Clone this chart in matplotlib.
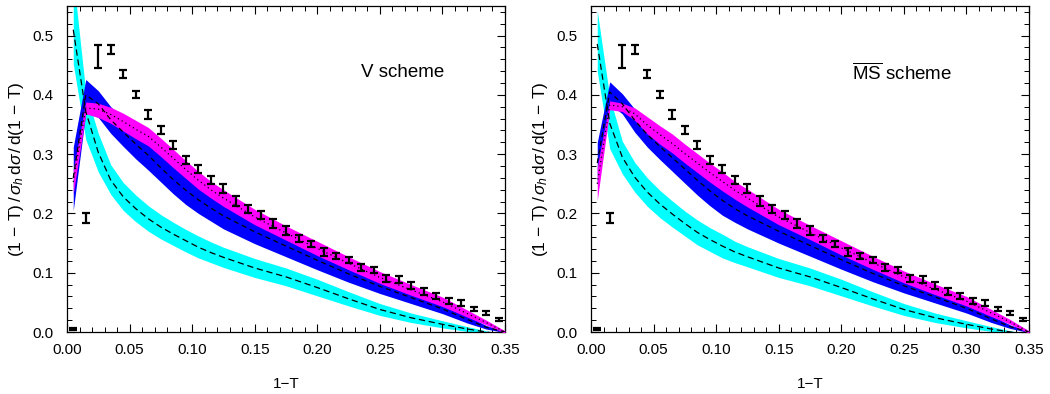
import numpy as np
import matplotlib
matplotlib.use("Agg")
import matplotlib.pyplot as plt
from matplotlib.ticker import MultipleLocator, FormatStrFormatter

plt.rcParams['font.family'] = ['Liberation Sans', 'DejaVu Sans']
plt.rcParams['mathtext.fontset'] = 'custom'
plt.rcParams['mathtext.rm'] = 'Liberation Sans'
plt.rcParams['mathtext.it'] = 'Liberation Sans:italic'

# ---- data points (same in both panels) ----
x_data = [0.005, 0.015, 0.025, 0.035, 0.045, 0.055, 0.065, 0.075, 0.085, 0.095,
          0.105, 0.115, 0.125, 0.135, 0.145, 0.155, 0.165, 0.175, 0.185, 0.195,
          0.205, 0.215, 0.225, 0.235, 0.245, 0.255, 0.265, 0.275, 0.285, 0.295,
          0.305, 0.315, 0.325, 0.335, 0.345]
y_data = [0.005, 0.192, 0.465, 0.477, 0.435, 0.400, 0.367, 0.341, 0.315, 0.290,
          0.275, 0.256, 0.242, 0.221, 0.208, 0.197, 0.183, 0.171, 0.157, 0.149,
          0.135, 0.128, 0.121, 0.109, 0.104, 0.091, 0.089, 0.079, 0.069, 0.060,
          0.053, 0.049, 0.039, 0.032, 0.021]
y_err = [0.002, 0.008, 0.019, 0.008, 0.007, 0.006, 0.007, 0.007, 0.007, 0.007,
         0.006, 0.007, 0.007, 0.008, 0.007, 0.007, 0.007, 0.007, 0.006, 0.005,
         0.006, 0.005, 0.005, 0.006, 0.005, 0.006, 0.006, 0.006, 0.006, 0.005,
         0.005, 0.005, 0.004, 0.003, 0.003]

# ---- theory grid ----
x_th = [0.005, 0.015, 0.025, 0.035, 0.045, 0.055, 0.065, 0.075, 0.085, 0.095,
        0.105, 0.115, 0.125, 0.15, 0.175, 0.20, 0.225, 0.25, 0.275, 0.30,
        0.32, 0.335, 0.35]

# V scheme (left): central value, distance to upper edge, distance to lower edge
V_cyan_c   = [0.510, 0.372, 0.303, 0.256, 0.228, 0.208, 0.191, 0.177, 0.165, 0.154,
              0.143, 0.134, 0.126, 0.108, 0.093, 0.075, 0.056, 0.038, 0.024, 0.013,
              0.005, 0.000, -0.005]
V_cyan_up  = [0.090, 0.033, 0.032, 0.026, 0.024, 0.023, 0.022, 0.021, 0.020, 0.019,
              0.019, 0.018, 0.017, 0.016, 0.015, 0.014, 0.012, 0.010, 0.008, 0.006,
              0.004, 0.002, 0.002]
V_cyan_dn  = [0.058, 0.047, 0.033, 0.024, 0.023, 0.022, 0.021, 0.020, 0.019, 0.019,
              0.018, 0.017, 0.017, 0.016, 0.015, 0.014, 0.012, 0.010, 0.008, 0.006,
              0.004, 0.002, 0.002]

V_blue_c   = [0.260, 0.400, 0.385, 0.358, 0.337, 0.317, 0.298, 0.277, 0.257, 0.239,
              0.223, 0.209, 0.196, 0.169, 0.145, 0.121, 0.098, 0.077, 0.058, 0.039,
              0.021, 0.008, 0.000]
V_blue_up  = [0.052, 0.026, 0.022, 0.022, 0.023, 0.024, 0.024, 0.024, 0.024, 0.024,
              0.024, 0.023, 0.022, 0.020, 0.019, 0.017, 0.015, 0.013, 0.011, 0.008,
              0.006, 0.003, 0.001]
V_blue_dn  = [0.055, 0.030, 0.023, 0.023, 0.024, 0.025, 0.025, 0.024, 0.024, 0.024,
              0.023, 0.022, 0.022, 0.020, 0.018, 0.016, 0.014, 0.012, 0.010, 0.008,
              0.006, 0.003, 0.001]

V_mag_c    = [0.253, 0.378, 0.376, 0.367, 0.355, 0.342, 0.330, 0.312, 0.293, 0.274,
              0.256, 0.240, 0.226, 0.194, 0.167, 0.141, 0.116, 0.092, 0.071, 0.051,
              0.031, 0.016, 0.000]
V_mag_up   = [0.020, 0.010, 0.010, 0.012, 0.014, 0.015, 0.015, 0.015, 0.015, 0.015,
              0.015, 0.014, 0.014, 0.013, 0.012, 0.012, 0.011, 0.010, 0.009, 0.008,
              0.006, 0.004, 0.002]
V_mag_dn   = [0.020, 0.010, 0.014, 0.015, 0.016, 0.016, 0.016, 0.016, 0.016, 0.015,
              0.015, 0.014, 0.014, 0.013, 0.012, 0.012, 0.011, 0.010, 0.009, 0.008,
              0.006, 0.004, 0.002]

# MS-bar scheme (right)
M_cyan_c   = [0.486, 0.352, 0.295, 0.261, 0.236, 0.216, 0.199, 0.183, 0.168, 0.156,
              0.145, 0.135, 0.127, 0.108, 0.093, 0.075, 0.056, 0.038, 0.024, 0.013,
              0.005, 0.000, -0.005]
M_cyan_up  = [0.056, 0.044, 0.027, 0.025, 0.024, 0.023, 0.022, 0.021, 0.021, 0.020,
              0.020, 0.018, 0.017, 0.016, 0.015, 0.014, 0.012, 0.010, 0.008, 0.006,
              0.004, 0.002, 0.002]
M_cyan_dn  = [0.046, 0.043, 0.028, 0.025, 0.024, 0.023, 0.022, 0.021, 0.021, 0.020,
              0.020, 0.018, 0.017, 0.016, 0.015, 0.014, 0.012, 0.010, 0.008, 0.006,
              0.004, 0.002, 0.002]

M_blue_c   = [0.285, 0.405, 0.385, 0.357, 0.333, 0.313, 0.294, 0.275, 0.256, 0.238,
              0.222, 0.208, 0.196, 0.170, 0.146, 0.122, 0.099, 0.078, 0.059, 0.040,
              0.022, 0.009, 0.000]
M_blue_up  = [0.035, 0.017, 0.017, 0.019, 0.020, 0.022, 0.023, 0.024, 0.025, 0.025,
              0.025, 0.024, 0.023, 0.020, 0.019, 0.017, 0.015, 0.013, 0.011, 0.008,
              0.006, 0.003, 0.001]
M_blue_dn  = [0.035, 0.020, 0.017, 0.020, 0.021, 0.022, 0.023, 0.024, 0.025, 0.025,
              0.025, 0.023, 0.022, 0.020, 0.018, 0.016, 0.014, 0.012, 0.010, 0.008,
              0.006, 0.003, 0.001]

M_mag_c    = [0.250, 0.383, 0.380, 0.368, 0.349, 0.333, 0.318, 0.301, 0.285, 0.269,
              0.254, 0.239, 0.226, 0.194, 0.168, 0.142, 0.117, 0.093, 0.072, 0.052,
              0.032, 0.017, 0.000]
M_mag_up   = [0.028, 0.007, 0.006, 0.010, 0.014, 0.015, 0.016, 0.016, 0.016, 0.016,
              0.016, 0.015, 0.015, 0.013, 0.012, 0.012, 0.011, 0.010, 0.009, 0.008,
              0.006, 0.004, 0.002]
M_mag_dn   = [0.028, 0.008, 0.008, 0.011, 0.015, 0.016, 0.016, 0.016, 0.016, 0.016,
              0.016, 0.015, 0.015, 0.013, 0.012, 0.012, 0.011, 0.010, 0.009, 0.008,
              0.006, 0.004, 0.002]

panels = [
    dict(label="V scheme", tx=0.672,
         cyan=(V_cyan_c, V_cyan_up, V_cyan_dn),
         blue=(V_blue_c, V_blue_up, V_blue_dn),
         mag=(V_mag_c, V_mag_up, V_mag_dn)),
    dict(label=r"$\overline{\mathrm{MS}}$ scheme", tx=0.595,
         cyan=(M_cyan_c, M_cyan_up, M_cyan_dn),
         blue=(M_blue_c, M_blue_up, M_blue_dn),
         mag=(M_mag_c, M_mag_up, M_mag_dn)),
]


def band(ax, spec, color, ls, z):
    c, up, dn = (np.asarray(v) for v in spec)
    ax.fill_between(x_th, c - dn, c + up, color=color, lw=0, zorder=z)
    ax.plot(x_th, c, color='black', lw=0.9, ls=ls, zorder=4)


fig = plt.figure(figsize=(10.5, 3.94), dpi=100)
axes_pos = [[67/1050, 1-332/394, 438/1050, 326/394],
            [591/1050, 1-332/394, 438/1050, 326/394]]

ylab = r"(1$\,-\,$T)$\,$/$\,\sigma_h\,$d$\sigma\,$/$\,$d(1$\,-\,$T)"

for pos, p in zip(axes_pos, panels):
    ax = fig.add_axes(pos)
    band(ax, p['cyan'], '#00FFFF', (0, (5, 3)), 1)
    band(ax, p['blue'], '#0000FF', (0, (4, 3)), 2)
    band(ax, p['mag'], '#FF00FF', (0, (1, 2.5)), 3)

    ax.errorbar(x_data, y_data, yerr=y_err, fmt='none', ecolor='black',
                elinewidth=1.6, capsize=2.8, capthick=1.6, zorder=5)

    ax.set_xlim(0, 0.35)
    ax.set_ylim(0, 0.55)
    ax.xaxis.set_major_locator(MultipleLocator(0.05))
    ax.xaxis.set_minor_locator(MultipleLocator(0.01))
    ax.yaxis.set_major_locator(MultipleLocator(0.1))
    ax.yaxis.set_minor_locator(MultipleLocator(0.02))
    ax.xaxis.set_major_formatter(FormatStrFormatter('%.2f'))
    ax.yaxis.set_major_formatter(FormatStrFormatter('%.1f'))
    ax.tick_params(which='both', direction='in', top=True, right=True,
                   labelsize=11, colors='black')
    ax.tick_params(which='major', length=6, width=0.8)
    ax.tick_params(axis='x', which='major', pad=8)
    ax.tick_params(axis='y', which='major', pad=10)
    ax.tick_params(which='minor', length=3.5, width=0.7)
    for s in ax.spines.values():
        s.set_linewidth(0.9)
    ax.set_xlabel("1\u2212T", fontsize=11, labelpad=14)
    ax.set_ylabel(ylab, fontsize=12.5, labelpad=4)
    ax.text(p['tx'], 0.795, p['label'], transform=ax.transAxes, fontsize=13.5,
            ha='left', va='center')

fig.savefig("out.png", dpi=100)
